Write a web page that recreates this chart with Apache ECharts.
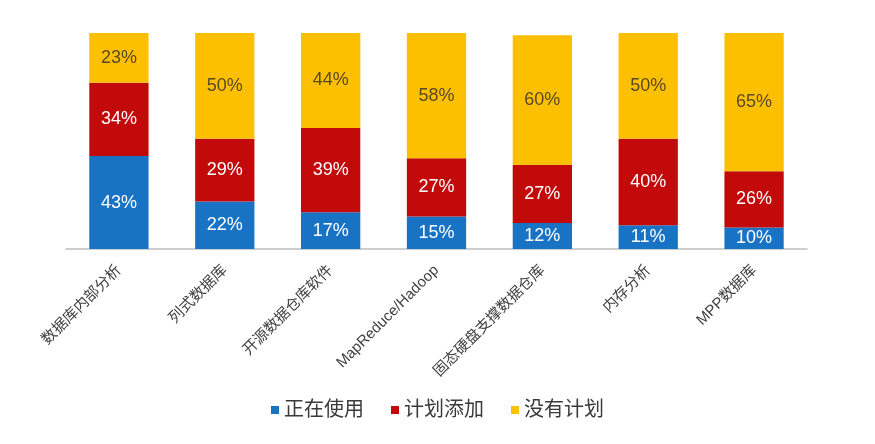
<!DOCTYPE html>
<html>
<head>
<meta charset="utf-8">
<script src="https://cdn.jsdelivr.net/npm/echarts@6/dist/echarts.min.js"></script>
<style>html,body{margin:0;padding:0;background:#fff}#main{width:875px;height:444px}</style>
</head>
<body>
<div id="main"></div>
<script>
var fontFamily='"Liberation Sans","Noto Sans CJK SC",Arial,sans-serif';
var categories=['数据库内部分析','列式数据库','开源数据仓库软件','MapReduce/Hadoop','固态硬盘支撑数据仓库','内存分析','MPP数据库'];
var inUse=[43,22,17,15,12,11,10];
var planned=[34,29,39,27,27,40,26];
var noPlan=[23,50,44,58,60,50,65];
var seriesNames=['正在使用','计划添加','没有计划'];
var colors=['#1873c5','#c20a0a','#fdc000'];

var chart=echarts.init(document.getElementById('main'));
function mk(name,data,color,labelColor){
    return {
        name:name,
        type:'bar',
        stack:'all',
        barWidth:'56%',
        data:data,
        itemStyle:{color:color},
        label:{
            show:true,
            position:'inside',
            formatter:'{c}%',
            color:labelColor,
            fontSize:18,
            fontFamily:fontFamily
        }
    };
}
var option={
    animation:false,
    color:colors,
    grid:{left:66,right:68,top:33,bottom:195},
    legend:{
        bottom:19,
        left:'center',
        itemWidth:8,
        itemHeight:8,
        itemGap:27,
        icon:'rect',
        textStyle:{fontSize:20,color:'#3a3a3a',fontFamily:fontFamily},
        data:seriesNames
    },
    xAxis:{
        type:'category',
        data:categories,
        axisLine:{lineStyle:{color:'#bfbfbf',width:1.5}},
        axisTick:{show:false},
        axisLabel:{
            rotate:45,
            interval:0,
            margin:19,
            color:'#404040',
            fontSize:15,
            fontFamily:fontFamily
        }
    },
    yAxis:{
        type:'value',
        min:0,
        max:100,
        show:false
    },
    series:[
        mk(seriesNames[0],inUse,colors[0],'#ffffff'),
        mk(seriesNames[1],planned,colors[1],'#ffffff'),
        mk(seriesNames[2],noPlan,colors[2],'#594a26')
    ]
};
chart.setOption(option);
</script>
</body>
</html>
